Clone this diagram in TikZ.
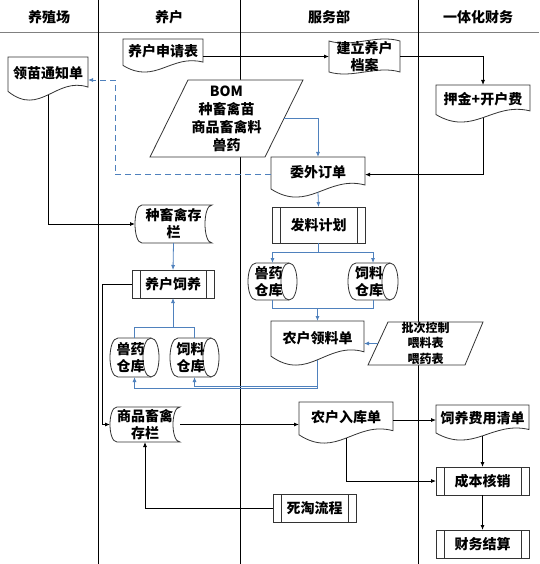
\documentclass[tikz,border=0pt]{standalone}
\usepackage{fontspec}
\setmainfont{Noto Sans CJK SC}
\usetikzlibrary{arrows.meta}
\definecolor{lineblue}{HTML}{4F81BD}
\definecolor{shapeline}{HTML}{333333}
\tikzset{
 shp/.style={draw=shapeline, line width=0.8pt, fill=white},
 shpl/.style={draw=shapeline, line width=0.8pt},
 box/.style={inner sep=0pt, outer sep=0pt, draw=none},
 txt/.style={font=\fontsize{14pt}{17pt}\selectfont\bfseries, align=center, inner sep=0pt},
 bigtxt/.style={font=\fontsize{14pt}{18pt}\selectfont\bfseries, align=center, inner sep=0pt},
 smalltxt/.style={font=\fontsize{12pt}{15.5pt}\selectfont\bfseries, align=center, inner sep=0pt},
 conn/.style={draw=black, line width=0.8pt},
 arr/.style={conn, -{Latex[length=5pt,width=4pt]}},
 bconn/.style={draw=lineblue, line width=0.8pt},
 barr/.style={bconn, -{Latex[length=5pt,width=4pt]}},
 dconn/.style={barr, dash pattern=on 6pt off 4pt},
 lane/.style={draw=black, line width=1pt},
 headline/.style={draw=gray, line width=1pt},
 hdr/.style={font=\fontsize{14pt}{17pt}\selectfont\bfseries, inner sep=0pt},
}
\newcommand{\MkBox}[5]{%
  \pgfmathsetmacro{\bxW}{#4-#2}\pgfmathsetmacro{\bxH}{#5-#3}%
  \node[box, minimum width=\bxW pt, minimum height=\bxH pt] (#1) at ({(#2+#4)/2},{(#3+#5)/2}) {};
}
\newcommand{\DocShape}[6]{%
  \pgfmathsetmacro{\dW}{#4-#2}\pgfmathsetmacro{\dH}{#5-#3}%
  \draw[shp] (#2,#3) -- (#4,#3) -- (#4,{#5-0.3*\dH}) .. controls ({#2+0.6*\dW},{#5-0.55*\dH}) and ({#2+0.4*\dW},{#5+0.4*\dH}) .. (#2,{#5-0.2*\dH}) -- cycle;
  \pgfmathsetmacro{\dB}{#5-0.12*\dH}%
  \MkBox{#1}{#2}{#3}{#4}{\dB}
  \node[txt] (#1t) at ({(#2+#4)/2},{#3+0.38*\dH}) {#6};
}
\newcommand{\ProcShape}[6]{%
  \draw[shp] (#2,#3) rectangle (#4,#5);
  \draw[shpl] ({#2+8},#3) -- ({#2+8},#5) ({#4-8},#3) -- ({#4-8},#5);
  \MkBox{#1}{#2}{#3}{#4}{#5}
  \node[txt] (#1t) at ({(#2+#4)/2},{(#3+#5)/2}) {#6};
}
\newcommand{\StoreShape}[6]{%
  \draw[shp] ({#2+7},#3) -- (#4,#3) .. controls ({#4-9.33},#3) and ({#4-9.33},#5) .. (#4,#5) -- ({#2+7},#5) .. controls ({#2-2.33},#5) and ({#2-2.33},#3) .. cycle;
  \MkBox{#1}{#2}{#3}{#4}{#5}
  \node[txt] (#1t) at ({(#2+#4)/2},{(#3+#5)/2}) {#6};
}
\newcommand{\CylShape}[6]{%
  \draw[shp] ({#2+8},#3) -- ({#4-8},#3) .. controls ({#4+2.67},#3) and ({#4+2.67},#5) .. ({#4-8},#5) -- ({#2+8},#5) .. controls ({#2-2.67},#5) and ({#2-2.67},#3) .. cycle;
  \draw[shpl] ({#4-8},#3) .. controls ({#4-18.67},#3) and ({#4-18.67},#5) .. ({#4-8},#5);
  \MkBox{#1}{#2}{#3}{#4}{#5}
  \node[txt] (#1t) at ({(#2+#4-8)/2},{(#3+#5)/2}) {#6};
}
\newcommand{\TapeShape}[6]{%
  \pgfmathsetmacro{\dW}{#4-#2}%
  \draw[shp] (#2,#3) .. controls ({#2+0.33*\dW},{#3+7}) and ({#2+0.67*\dW},{#3-7}) .. (#4,#3) -- (#4,#5) .. controls ({#2+0.67*\dW},{#5-7}) and ({#2+0.33*\dW},{#5+7}) .. (#2,#5) -- cycle;
  \MkBox{#1}{#2}{#3}{#4}{#5}
  \node[txt] (#1t) at ({(#2+#4)/2},{(#3+#5)/2}) {#6};
}
\begin{document}
\begin{tikzpicture}[x=1pt,y=-1pt]
\useasboundingbox (0,0) rectangle (539,564);
\fill[white] (0,0) rectangle (539,564);
% lanes
\draw[headline] (0,33) -- (539,33);
\draw[lane] (98,0) -- (98,564);
\draw[lane] (240,0) -- (240,564);
\draw[lane] (418,0) -- (418,564);
\node[hdr] (h1) at (49,17) {养殖场};
\node[hdr] (h2) at (169,17) {养户};
\node[hdr] (h3) at (329,17) {服务部};
\node[hdr] (h4) at (478,17) {一体化财务};
% shapes
\DocShape{lingmiao}{8}{57}{88}{100}{领苗通知单}
\DocShape{shenqing}{123}{39}{203}{72}{养户申请表}
\TapeShape{dangan}{329}{41}{400}{72}{建立养户\\档案}
\DocShape{yajin}{436}{85}{530}{122}{押金+开户费}
\draw[shp] (188,80) -- (303,80) -- (265,157) -- (150,157) -- cycle;
\MkBox{bom}{150}{80}{303}{157}
\coordinate (bomE) at (284,118.5);
\node[bigtxt] (bomt) at (226.5,118.5) {BOM\\种畜禽苗\\商品畜禽料\\兽药};
\DocShape{weiwai}{271}{157}{365}{197}{委外订单}
\ProcShape{faliao}{272}{207}{365}{243}{发料计划}
\CylShape{shouyaoB}{248}{263}{297}{300}{兽药\\仓库}
\CylShape{siliaoB}{348}{263}{398}{300}{饲料\\仓库}
\DocShape{lingliao}{271}{321}{364}{365}{农户领料单}
\draw[shp] (388,322) -- (483,322) -- (465,365) -- (368,365) -- cycle;
\MkBox{pici}{368}{322}{483}{365}
\coordinate (piciW) at (378,343.5);
\node[smalltxt] (picit) at (425.5,343) {批次控制\\喂料表\\喂药表};
\StoreShape{zhongchu}{135}{205}{212}{243}{种畜禽存\\栏}
\ProcShape{siyang}{132}{270}{214}{298}{养户饲养}
\CylShape{shouyaoA}{110}{338}{159}{377}{兽药\\仓库}
\CylShape{siliaoA}{170}{338}{219}{377}{饲料\\仓库}
\StoreShape{shangpin}{110}{407}{180}{442}{商品畜禽\\存栏}
\DocShape{ruku}{299}{402}{393}{443}{农户入库单}
\DocShape{feiyong}{436}{405}{529}{440}{饲养费用清单}
\ProcShape{chengben}{436}{467}{529}{495}{成本核销}
\ProcShape{caiwu}{436}{530}{529}{558}{财务结算}
\ProcShape{sitao}{273}{494}{356}{522}{死淘流程}
% helper coordinates
\coordinate (dk) at (115,80);
\coordinate (y386) at (0,386);
\coordinate (y388) at (0,388);
\coordinate (x102) at (102,0);
\path (siyang.south) ++(0,29) coordinate (m1);
\path (faliao.south) ++(0,9) coordinate (g1);
\path (lingliao.north) ++(0,-13) coordinate (j1);
% connectors
\draw[arr] (dangan.west -| shenqing.east) -- (dangan.west);
\draw[arr] (dangan.east) -| (yajin.north);
\draw[arr] (yajin.south) |- (weiwai.east);
\draw[barr] (bomE) -| (weiwai.north);
\draw[dconn] (weiwai.west) -| (dk) -- (dk -| lingmiao.east);
\draw[arr] (lingmiao.south) |- (zhongchu.west);
\draw[barr] (zhongchu.south) -- (siyang.north);
\draw[bconn] (shouyaoA.north) |- (m1);
\draw[bconn] (siliaoA.north) |- (m1);
\draw[barr] (m1) -- (siyang.south);
\draw[barr] (lingliao.south) -- (lingliao.south |- y386) -| (siliaoA.south);
\draw[barr] (lingliao.south) -- (lingliao.south |- y388) -| (shouyaoA.south);
\draw[arr] (siyang.west) -- (siyang.west -| x102) |- (shangpin.west);
\draw[arr] (shangpin.east) -- (shangpin.east -| ruku.west);
\draw[arr] (ruku.east) -- (ruku.east -| feiyong.west);
\draw[arr] (feiyong.south) -- (chengben.north);
\draw[arr] (ruku.south) |- (chengben.west);
\draw[arr] (chengben.south) -- (caiwu.north);
\draw[arr] (sitao.west) -| (shangpin.south);
\draw[barr] (weiwai.south) -- (faliao.north);
\draw[bconn] (faliao.south) -- (g1);
\draw[barr] (g1) -| (shouyaoB.north);
\draw[barr] (g1) -| (siliaoB.north);
\draw[bconn] (shouyaoB.south) |- (j1);
\draw[bconn] (siliaoB.south) |- (j1);
\draw[barr] (j1) -- (lingliao.north);
\draw[barr] (piciW) -- (piciW -| lingliao.east);
\end{tikzpicture}
\end{document}
